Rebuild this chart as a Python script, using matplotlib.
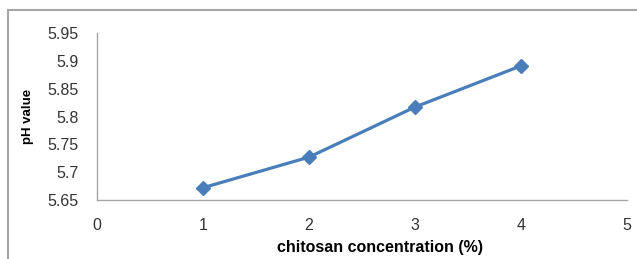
import matplotlib
matplotlib.use('Agg')
import matplotlib.pyplot as plt
from matplotlib.patches import Rectangle

concentration = [1, 2, 3, 4]
ph_value = [5.672, 5.727, 5.817, 5.891]
x_ticks = [0, 1, 2, 3, 4, 5]
y_ticks = [5.65, 5.7, 5.75, 5.8, 5.85, 5.9, 5.95]
y_labels = ['5.65', '5.7', '5.75', '5.8', '5.85', '5.9', '5.95']

plt.rcParams['font.family'] = ['Liberation Sans', 'DejaVu Sans']

fig = plt.figure(figsize=(6.37, 2.59), dpi=100)
# outer chart frame (only top/left visible in the crop)
fig.patches.append(Rectangle((8 / 637, -0.1), 1.2, 1 - 10 / 259 + 0.1,
                             transform=fig.transFigure, fill=False,
                             edgecolor='#a6a6a6', linewidth=1.5))

ax = fig.add_axes([97 / 637, 59 / 259, 530 / 637, 167 / 259])
ax.plot(concentration, ph_value, color='#4a7ebb', linewidth=2.3,
        marker='D', markersize=7.5, clip_on=False)

ax.set_xlim(0, 5)
ax.set_ylim(5.65, 5.95)
ax.set_xticks(x_ticks)
ax.set_yticks(y_ticks)
ax.set_yticklabels(y_labels)
ax.tick_params(length=0, labelsize=11.5, colors='#333333')
ax.tick_params(axis='y', pad=13)
ax.tick_params(axis='x', pad=13)

for side in ['top', 'right']:
    ax.spines[side].set_visible(False)
for side in ['left', 'bottom']:
    ax.spines[side].set_color('#a6a6a6')
    ax.spines[side].set_linewidth(1.0)

ax.set_xlabel('chitosan concentration (%)', fontsize=11.5, fontweight='bold')
ax.xaxis.set_label_coords(283 / 530, -40 / 167)
ax.set_ylabel('pH value', fontsize=9.5, fontweight='bold')
ax.yaxis.set_label_coords(-63 / 530, 0.5)

fig.savefig('out.png', dpi=100)
